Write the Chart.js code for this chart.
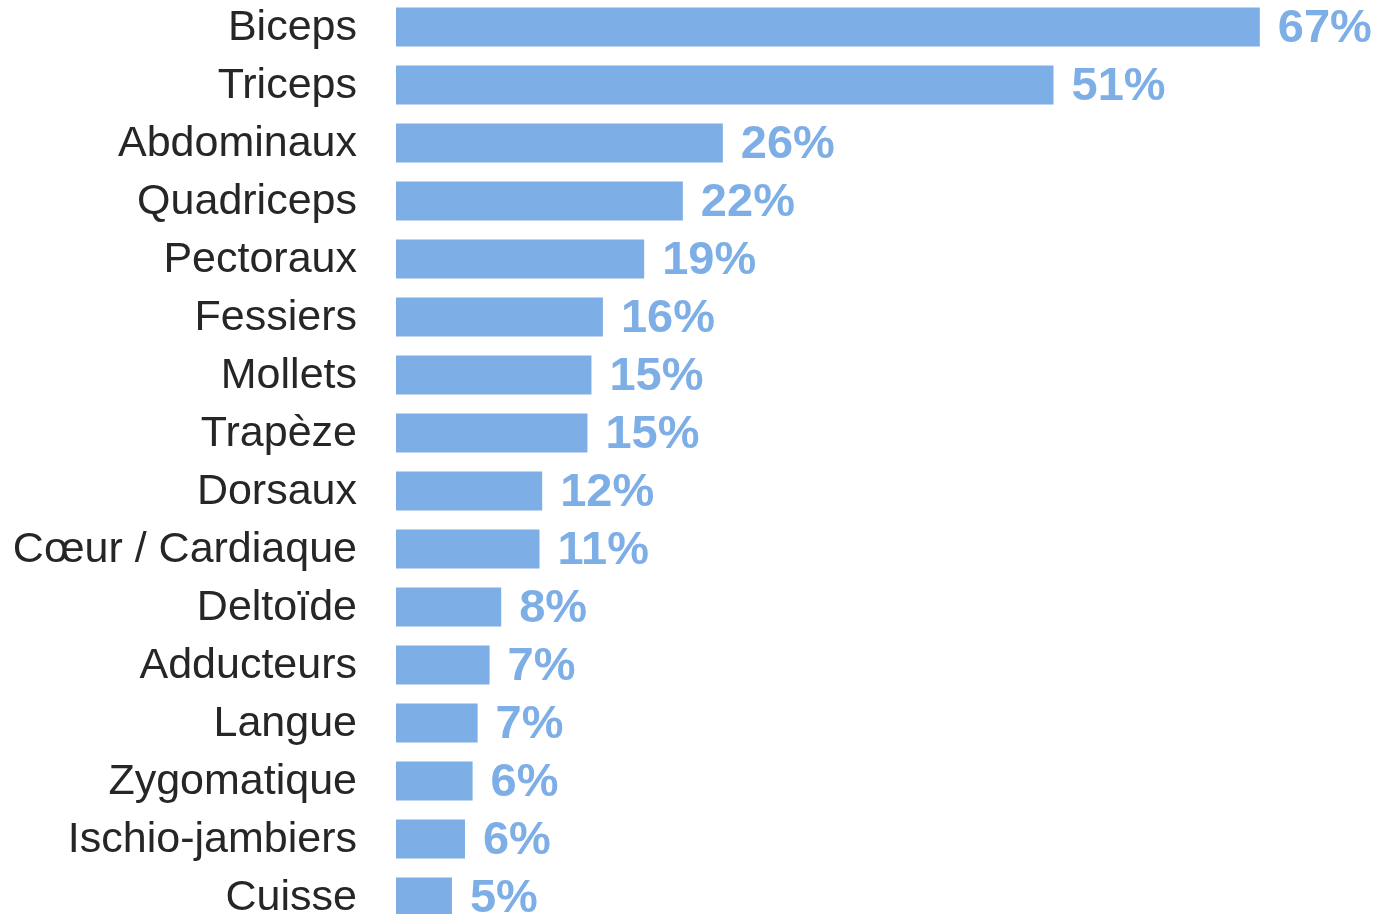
<!DOCTYPE html>
<html>
<head>
<meta charset="utf-8">
<script src="https://cdn.jsdelivr.net/npm/chart.js@4/dist/chart.umd.min.js"></script>
<style>
  html, body { margin: 0; padding: 0; background: #ffffff; overflow: hidden; }
  #wrap { position: absolute; left: 0; top: -2px; width: 1381px; height: 928px; }
</style>
</head>
<body>
<div id="wrap"><canvas id="muscles"></canvas></div>
<script>
// categories, top to bottom
var labels = ['Biceps', 'Triceps', 'Abdominaux', 'Quadriceps', 'Pectoraux', 'Fessiers', 'Mollets', 'Trapèze',
  'Dorsaux', 'Cœur / Cardiaque', 'Deltoïde', 'Adducteurs', 'Langue', 'Zygomatique', 'Ischio-jambiers', 'Cuisse'];

// share of answers (%)
var values = [67, 51, 25.35, 22.25, 19.25, 16.05, 15.16, 14.85, 11.34, 11.13, 8.16, 7.26, 6.33, 5.94, 5.35, 4.34];

// text printed at the end of each bar
var valueLabels = ['67%', '51%', '26%', '22%', '19%', '16%', '15%', '15%', '12%', '11%', '8%', '7%', '7%', '6%', '6%', '5%'];

var barColor = '#7eaee6';
var fontFamily = '"Liberation Sans", Arial, sans-serif';

// category names on the left and the % next to each bar
var barText = {
  id: 'barText',
  afterDatasetsDraw: function(chart) {
    var ctx = chart.ctx;
    var meta = chart.getDatasetMeta(0);
    var left = chart.chartArea.left;
    ctx.save();
    ctx.textBaseline = 'middle';
    meta.data.forEach(function(bar, i) {
      ctx.font = '43px ' + fontFamily;
      ctx.fillStyle = '#262626';
      ctx.textAlign = 'right';
      ctx.fillText(labels[i], left - 39, bar.y + 1);

      ctx.font = 'bold 47px ' + fontFamily;
      ctx.fillStyle = barColor;
      ctx.textAlign = 'left';
      ctx.fillText(valueLabels[i], bar.x + 18, bar.y + 2);
    });
    ctx.restore();
  }
};

var ctx = document.getElementById('muscles').getContext('2d');
var chart = new Chart(ctx, {
  type: 'bar',
  data: {
    labels: labels,
    datasets: [{
      data: values,
      backgroundColor: barColor,
      borderWidth: 0,
      categoryPercentage: 1,
      barPercentage: 0.67
    }]
  },
  options: {
    indexAxis: 'y',
    responsive: true,
    maintainAspectRatio: false,
    animation: false,
    layout: { padding: { left: 396, right: 0, top: 0, bottom: 0 } },
    plugins: {
      legend: { display: false },
      tooltip: { enabled: false }
    },
    scales: {
      x: { display: false, min: 0, max: 76.4 },
      y: { display: false }
    }
  },
  plugins: [barText]
});
</script>
</body>
</html>
